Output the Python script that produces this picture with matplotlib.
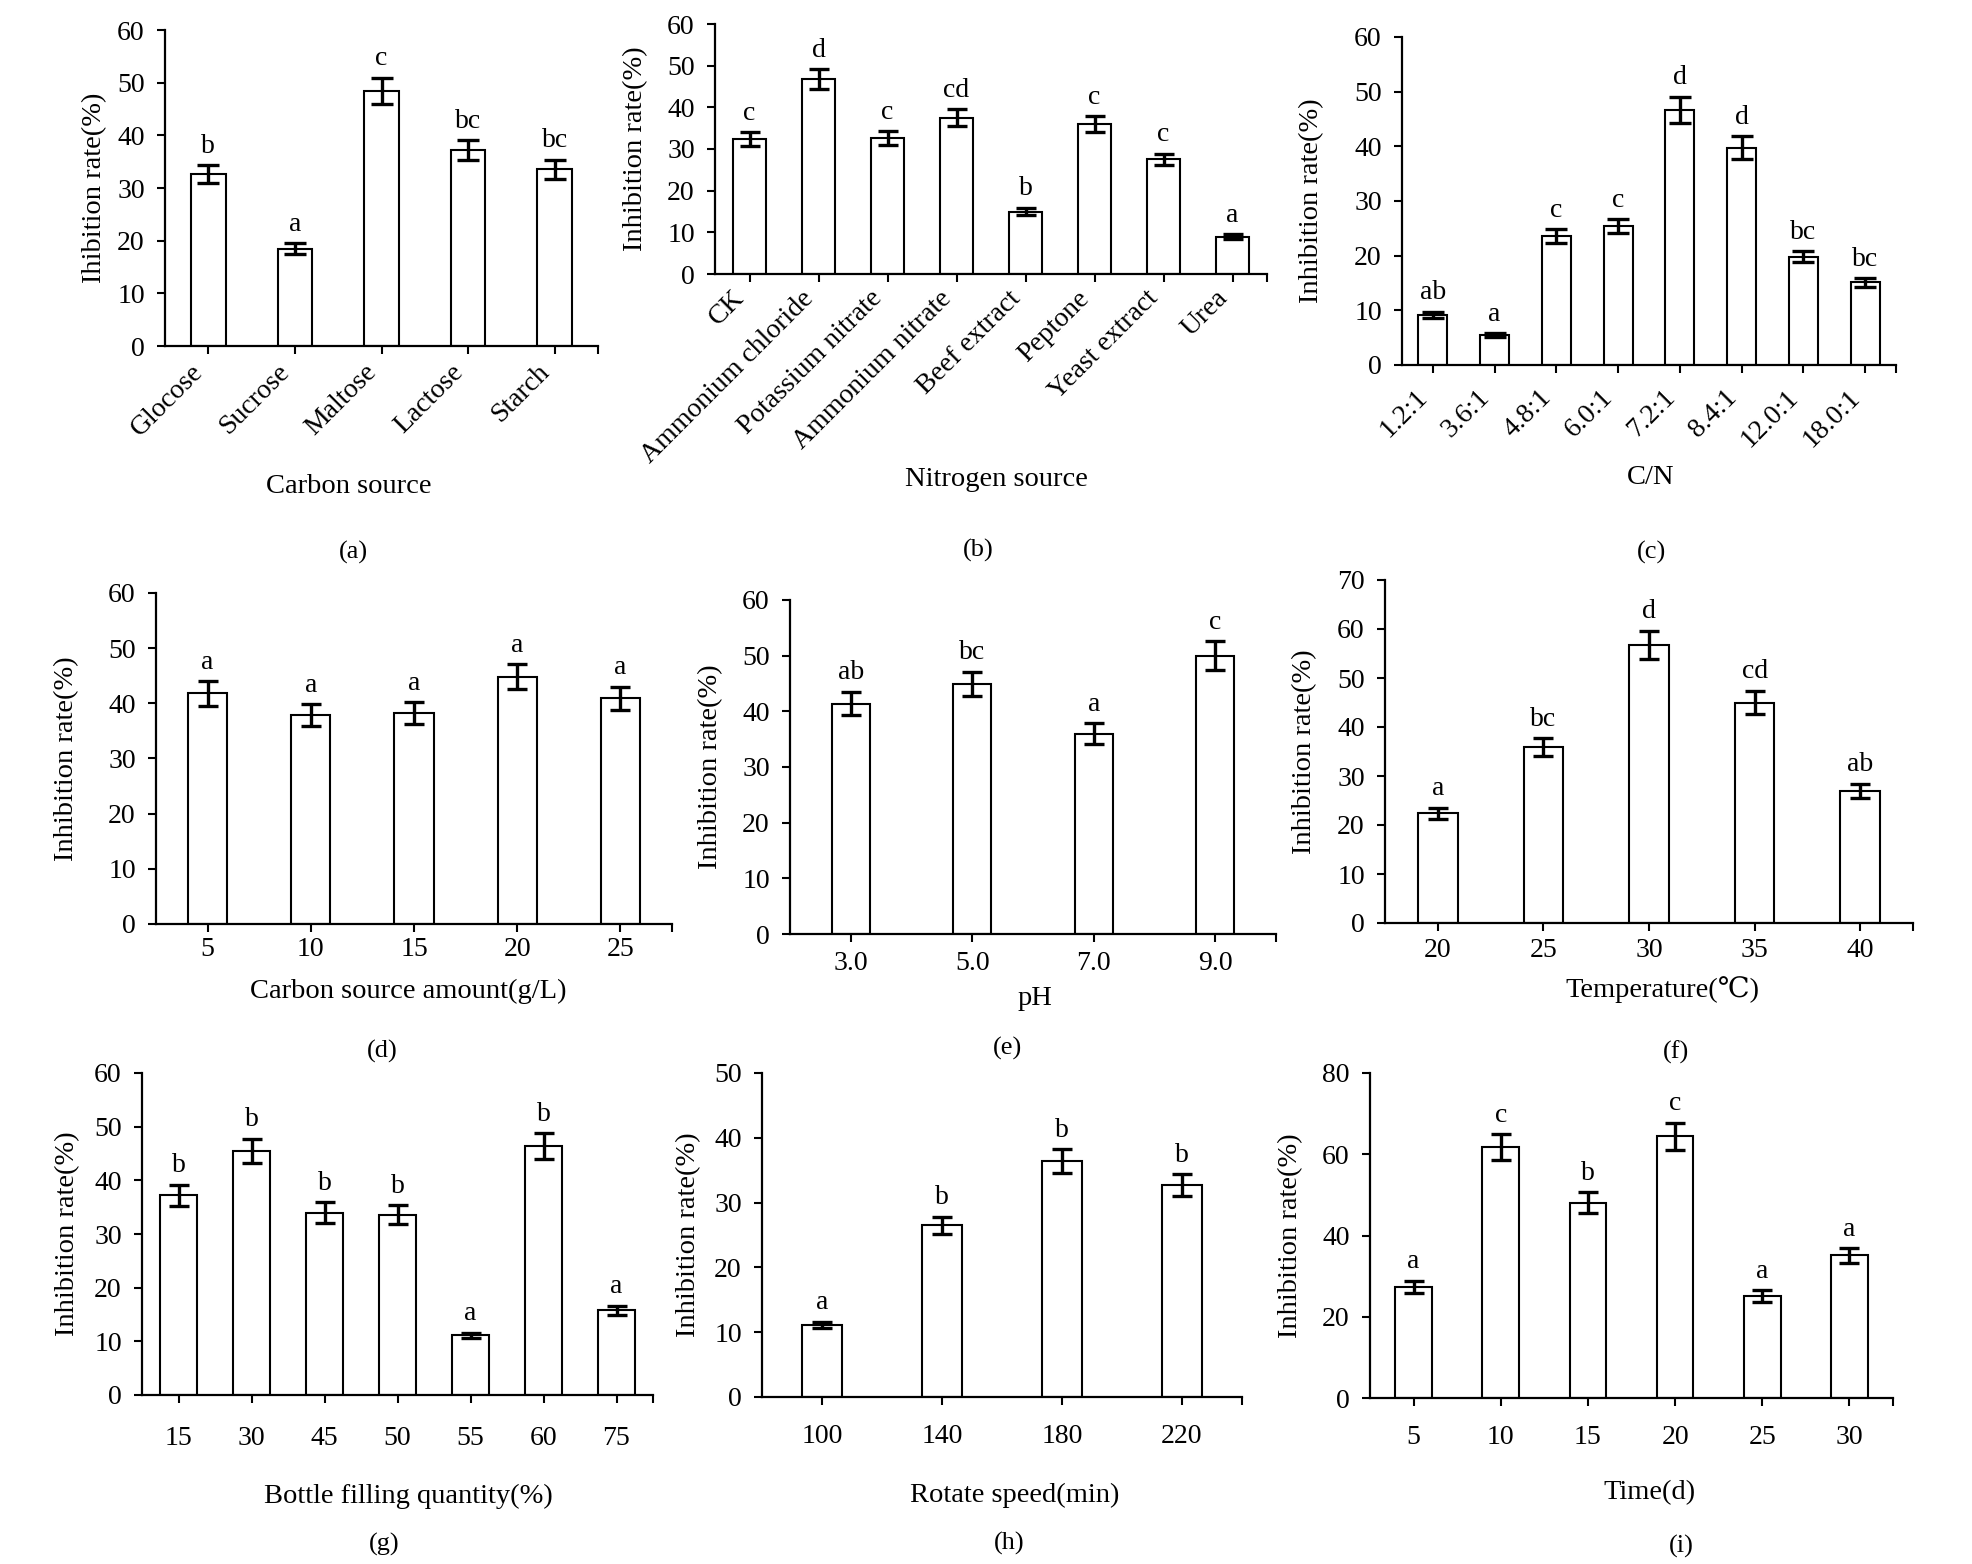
import matplotlib
matplotlib.use("Agg")
from matplotlib import pyplot as plt
from matplotlib.transforms import ScaledTranslation

plt.rcParams['font.family'] = ['Liberation Serif', 'DejaVu Serif', 'Noto Sans CJK SC']
plt.rcParams['font.size'] = 20

W, H = 1972, 1564

# (a) 碳源
carbon = ["Glocose", "Sucrose", "Maltose", "Lactose", "Starch"]
carbon_rate = [32.6, 18.5, 48.4, 37.2, 33.6]
carbon_err = [1.7, 1.0, 2.5, 1.9, 1.8]
carbon_sig = ["b", "a", "c", "bc", "bc"]

# (b) 氮源
nitrogen = ["CK", "Ammonium chloride", "Potassium nitrate", "Ammonium nitrate",
            "Beef extract", "Peptone", "Yeast extract", "Urea"]
nitrogen_rate = [32.4, 46.8, 32.6, 37.5, 15.0, 36.0, 27.5, 9.0]
nitrogen_err = [1.6, 2.3, 1.7, 2.0, 0.85, 1.9, 1.4, 0.5]
nitrogen_sig = ["c", "d", "c", "cd", "b", "c", "c", "a"]

# (c) 碳氮比
cn = ["1.2:1", "3.6:1", "4.8:1", "6.0:1", "7.2:1", "8.4:1", "12.0:1", "18.0:1"]
cn_rate = [9.2, 5.5, 23.6, 25.4, 46.7, 39.7, 19.8, 15.1]
cn_err = [0.55, 0.35, 1.2, 1.3, 2.4, 2.1, 1.0, 0.8]
cn_sig = ["ab", "a", "c", "c", "d", "d", "bc", "bc"]

# (d) 碳源用量
amount = ["5", "10", "15", "20", "25"]
amount_rate = [41.8, 37.9, 38.2, 44.8, 40.9]
amount_err = [2.2, 1.95, 2.0, 2.25, 2.15]
amount_sig = ["a", "a", "a", "a", "a"]

# (e) pH
ph = ["3.0", "5.0", "7.0", "9.0"]
ph_rate = [41.4, 44.9, 36.0, 50.0]
ph_err = [2.1, 2.2, 1.85, 2.55]
ph_sig = ["ab", "bc", "a", "c"]

# (f) 温度
temp = ["20", "25", "30", "35", "40"]
temp_rate = [22.4, 35.9, 56.7, 45.0, 27.0]
temp_err = [1.15, 1.85, 2.9, 2.35, 1.4]
temp_sig = ["a", "bc", "d", "cd", "ab"]

# (g) 装液量
bottle = ["15", "30", "45", "50", "55", "60", "75"]
bottle_rate = [37.2, 45.5, 34.0, 33.6, 11.1, 46.4, 15.8]
bottle_err = [2.0, 2.25, 1.9, 1.75, 0.5, 2.35, 0.8]
bottle_sig = ["b", "b", "b", "b", "a", "b", "a"]

# (h) 转速
speed = ["100", "140", "180", "220"]
speed_rate = [11.1, 26.5, 36.4, 32.7]
speed_err = [0.5, 1.35, 1.85, 1.7]
speed_sig = ["a", "b", "b", "b"]

# (i) 时间
days = ["5", "10", "15", "20", "25", "30"]
days_rate = [27.3, 61.7, 48.1, 64.4, 25.1, 35.1]
days_err = [1.55, 3.2, 2.6, 3.4, 1.4, 1.8]
days_sig = ["a", "c", "b", "c", "a", "a"]

fig = plt.figure(figsize=(W / 100, H / 100), dpi=100)


def draw_bar_fig(box, cats, rate, err, sig, ymax, ystep, width, ylabel, ylabel_x,
                 xlabel, xlabel_xy, tag, tag_xy, rotation=0, pad=5, capsize=7.5, shift=0):
    """绘制单个柱状图"""
    xl, xr, yb, yt = box
    ax = fig.add_axes([xl / W, 1 - yb / H, (xr - xl) / W, (yb - yt) / H])
    x = list(range(len(cats)))
    ax.bar(x, rate, width=width, color='white', edgecolor='black', linewidth=1.5, zorder=2)
    ax.errorbar(x, rate, yerr=err, fmt='none', ecolor='black', elinewidth=2.4,
                capsize=capsize, capthick=2.4, zorder=3)
    for i in x:
        ax.annotate(sig[i], (i, rate[i] + err[i]), xytext=(0, 9), textcoords='offset points',
                    ha='center', va='baseline', fontsize=20)
    ax.set_xlim(-0.5, len(cats) - 0.5)
    ax.set_ylim(0, ymax)
    ax.set_yticks(range(0, ymax + 1, ystep))
    ax.set_xticks(x)
    ax.set_xticks([len(cats) - 0.5], minor=True)
    if rotation:
        ax.set_xticklabels(cats, rotation=rotation, ha='right')
        # 旋转标签稍微右移
        if shift:
            for lab in ax.get_xticklabels():
                lab.set_transform(lab.get_transform() + ScaledTranslation(shift / 72, 0, fig.dpi_scale_trans))
    else:
        ax.set_xticklabels(cats)
    for s in ['top', 'right']:
        ax.spines[s].set_visible(False)
    for s in ['left', 'bottom']:
        ax.spines[s].set_linewidth(1.6)
    ax.tick_params(which='both', direction='out', length=5.5, width=1.5, labelsize=20)
    ax.tick_params(axis='y', pad=9)
    ax.tick_params(axis='x', which='both', pad=pad)
    fig.text(ylabel_x / W, 1 - (yb + yt) / 2 / H, ylabel, rotation=90,
             ha='center', va='center', fontsize=20.5)
    fig.text(xlabel_xy[0] / W, 1 - xlabel_xy[1] / H, xlabel, ha='center', va='center', fontsize=20.5)
    fig.text(tag_xy[0] / W, 1 - tag_xy[1] / H, tag, ha='center', va='center', fontsize=19)
    return ax


draw_bar_fig((165, 598, 346, 30), carbon, carbon_rate, carbon_err, carbon_sig, 60, 10, 0.4,
             "Ihibition rate(%)", 95, "Carbon source", (349, 486), "(a)", (353, 552),
             rotation=45, pad=4, capsize=8, shift=5)
draw_bar_fig((715, 1267, 274, 24), nitrogen, nitrogen_rate, nitrogen_err, nitrogen_sig, 60, 10, 0.47,
             "Inhibition rate(%)", 636, "Nitrogen source", (996, 480), "(b)", (978, 550),
             rotation=45, pad=3, capsize=7.5, shift=2)
draw_bar_fig((1402, 1896, 365, 37), cn, cn_rate, cn_err, cn_sig, 60, 10, 0.47,
             "Inhibition rate(%)", 1312, "C/N", (1651, 478), "(c)", (1652, 552),
             rotation=45, pad=9, capsize=8, shift=2)
draw_bar_fig((156, 672, 924, 593), amount, amount_rate, amount_err, amount_sig, 60, 10, 0.38,
             "Inhibition rate(%)", 67, "Carbon source amount(g/L)", (408, 991), "(d)", (382, 1051),
             pad=4)
draw_bar_fig((790, 1276, 934, 600), ph, ph_rate, ph_err, ph_sig, 60, 10, 0.31,
             "Inhibition rate(%)", 711, "pH", (1035, 998), "(e)", (1007, 1048),
             pad=7)
draw_bar_fig((1385, 1913, 923, 580), temp, temp_rate, temp_err, temp_sig, 70, 10, 0.375,
             "Inhibition rate(%)", 1305, "Temperature(℃)", (1662, 990), "(f)", (1676, 1052),
             pad=5)
draw_bar_fig((142, 653, 1395, 1073), bottle, bottle_rate, bottle_err, bottle_sig, 60, 10, 0.5,
             "Inhibition rate(%)", 68, "Bottle filling quantity(%)", (408, 1496), "(g)", (384, 1544),
             pad=17)
draw_bar_fig((762, 1242, 1397, 1073), speed, speed_rate, speed_err, speed_sig, 50, 10, 0.33,
             "Inhibition rate(%)", 689, "Rotate speed(min)", (1015, 1495), "(h)", (1009, 1543),
             pad=14)
draw_bar_fig((1370, 1893, 1398, 1073), days, days_rate, days_err, days_sig, 80, 20, 0.42,
             "Inhibition rate(%)", 1291, "Time(d)", (1650, 1493), "(i)", (1681, 1546),
             pad=14)

plt.savefig("out.png", dpi=100)
